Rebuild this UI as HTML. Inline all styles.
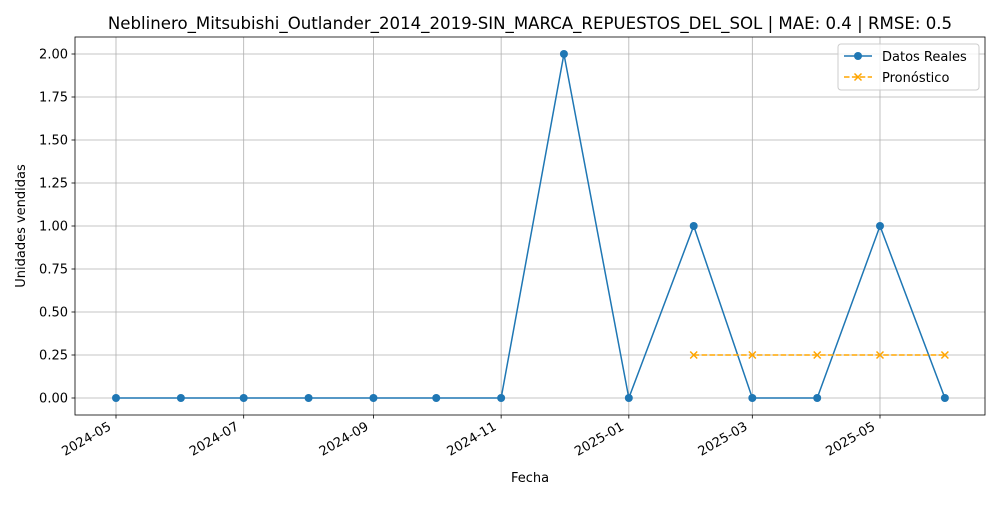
<!DOCTYPE html>
<html><head><meta charset="utf-8"><style>
body{margin:0;background:#fff;}
svg text{font-family:"DejaVu Sans","Liberation Sans",sans-serif;fill:#000;}
</style></head><body>
<svg id="chart" width="1000" height="500" xmlns="http://www.w3.org/2000/svg">
<rect width="1000" height="500" fill="#fff"/>
<g id="grid"></g>
<g id="series"></g>
<rect x="75" y="37" width="910" height="378" fill="none" stroke="#000" stroke-width="0.8"/>
<g id="axes"></g>
<text x="530" y="29" font-size="16.6" text-anchor="middle">Neblinero_Mitsubishi_Outlander_2014_2019-SIN_MARCA_REPUESTOS_DEL_SOL | MAE: 0.4 | RMSE: 0.5</text>
<text x="530" y="482" font-size="13" text-anchor="middle">Fecha</text>
<text transform="translate(25,226) rotate(-90)" font-size="13" text-anchor="middle">Unidades vendidas</text>
<g>
<rect x="838" y="44" width="141" height="46" rx="3" fill="#fff" fill-opacity="0.8" stroke="#ccc"/>
<g>
<line x1="844" y1="56" x2="872" y2="56" stroke="#1f77b4" stroke-width="1.5"/>
<circle cx="858" cy="56" r="4" fill="#1f77b4"/>
<text x="882" y="61" font-size="13">Datos Reales</text></g>
<g>
<line x1="844" y1="77" x2="872" y2="77" stroke="orange" stroke-width="1.5" stroke-dasharray="5.5,2.4"/>
<path d="M854.5 73.5l7 7M861.5 73.5l-7 7" stroke="orange" stroke-width="1.5"/>
<text x="882" y="82" font-size="13">Pronóstico</text></g>
</g>
</svg>
<script>
const months=["2024-05","2024-06","2024-07","2024-08","2024-09","2024-10","2024-11","2024-12","2025-01","2025-02","2025-03","2025-04","2025-05","2025-06"];
const actual=[0,0,0,0,0,0,0,2,0,1,0,0,1,0];
const forecastMonths=["2025-02","2025-03","2025-04","2025-05","2025-06"];
const forecast=[0.25,0.25,0.25,0.25,0.25];
const yTicks=[0,0.25,0.5,0.75,1,1.25,1.5,1.75,2];
const xTicks=["2024-05","2024-07","2024-09","2024-11","2025-01","2025-03","2025-05"];
const NS="http://www.w3.org/2000/svg";
const d0=Date.UTC(2024,4,1);
function days(m){const[a,b]=m.split("-").map(Number);return (Date.UTC(a,b-1,1)-d0)/864e5;}
function X(m){return 116+days(m)*764/365;}
function Y(v){return 398-v*172;}
function mk(t,a,p){const e=document.createElementNS(NS,t);for(const k in a)e.setAttribute(k,a[k]);p.appendChild(e);return e;}
const grid=document.getElementById("grid"),axes=document.getElementById("axes"),ser=document.getElementById("series");
yTicks.forEach(v=>{const y=Y(v);
const g=mk("line",{x1:75,x2:985,y1:y,y2:y,stroke:"#b0b0b0","stroke-width":0.8},grid);


mk("line",{x1:71.5,x2:75,y1:y,y2:y,stroke:"#000","stroke-width":0.8},axes);
const t=mk("text",{x:68,y:y+4.5,"font-size":13,"text-anchor":"end"},axes);t.textContent=v.toFixed(2);

});
xTicks.forEach(m=>{const x=X(m);
const g=mk("line",{x1:x,x2:x,y1:37,y2:415,stroke:"#b0b0b0","stroke-width":0.8},grid);


mk("line",{x1:x,x2:x,y1:415,y2:418.5,stroke:"#000","stroke-width":0.8},axes);
const t=mk("text",{transform:`translate(${x-4},${429}) rotate(-30)`,"font-size":13,"text-anchor":"end"},axes);t.textContent=m;

});
const l=mk("polyline",{points:months.map((m,i)=>X(m)+","+Y(actual[i])).join(" "),fill:"none",stroke:"#1f77b4","stroke-width":1.5},ser);


months.forEach((m,i)=>{const c=mk("circle",{cx:X(m),cy:Y(actual[i]),r:4,fill:"#1f77b4"},ser);

});
const f=mk("polyline",{points:forecastMonths.map((m,i)=>X(m)+","+Y(forecast[i])).join(" "),fill:"none",stroke:"orange","stroke-width":1.5,"stroke-dasharray":"5.5,2.4"},ser);


forecastMonths.forEach((m,i)=>{const x=X(m),y=Y(forecast[i]);
const p=mk("path",{d:`M${x-3.5} ${y-3.5}l7 7M${x+3.5} ${y-3.5}l-7 7`,stroke:"orange","stroke-width":1.5},ser);

});
</script>
</body></html>
